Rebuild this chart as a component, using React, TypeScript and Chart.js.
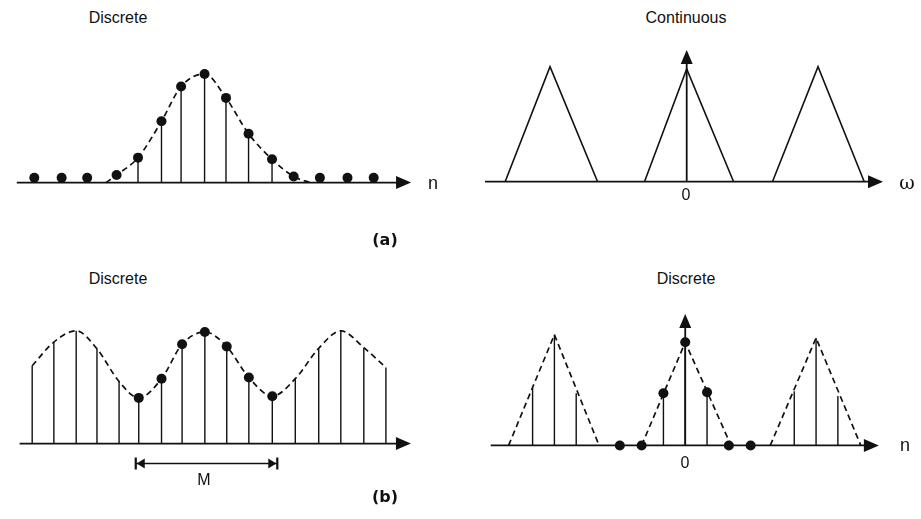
import React, { useEffect, useRef } from 'react';
import { Chart, registerables } from 'chart.js';

Chart.register(...registerables);

const INK = '#111111';

// (a) left: discrete signal x[n] — sample positions and amplitudes
const sigN = [-7.47, -6.27, -5.15, -3.86, -2.92, -1.89, -1.03, 0, 0.94, 1.93, 2.96, 3.91, 5.06, 6.27, 7.42];
const sigX = [0.045, 0.045, 0.045, 0.07, 0.23, 0.565, 0.885, 1.0, 0.78, 0.45, 0.215, 0.056, 0.045, 0.045, 0.045];
const sigStemFrom = 4;
const sigStemTo = 10;
// smooth envelope of x[n]
const sigEnvN = [-4.33, -3.86, -2.92, -1.89, -1.03, 0, 0.94, 1.93, 2.96, 3.91, 4.64];
const sigEnvX = [0, 0.07, 0.23, 0.565, 0.885, 1.0, 0.78, 0.45, 0.215, 0.056, 0];

// (a) right: continuous periodic spectrum X(ω), ω in units of π
const specW = [
  [-2.71, -2.04, -1.33],
  [-0.63, 0, 0.7],
  [1.28, 1.96, 2.65],
];
const specMag = [
  [0, 1, 0],
  [0, 0.98, 0],
  [0, 1, 0],
];

// (b) left: periodic sequence (period M), one period marked with dots
const perN = [-7.81, -6.83, -5.82, -4.88, -3.88, -2.99, -1.96, -1.03, 0, 0.99, 1.99, 3.05, 4.09, 5.15, 6.15, 7.19, 8.19];
const perX = [0.69, 0.9, 1.0, 0.84, 0.55, 0.405, 0.575, 0.88, 0.99, 0.86, 0.585, 0.42, 0.575, 0.845, 1.0, 0.85, 0.675];
const perDotFrom = 5;
const perDotTo = 11;

// (b) right: discrete periodic spectrum X[k]
const dftK = [-7, -6, -5, -4, -3, -2, -1, 0, 1, 2, 3, 4, 5, 6, 7];
const dftX = [0.53, 1.02, 0.48, 0, 0, 0, 0.48, 0.95, 0.49, 0, 0, 0, 0.5, 0.99, 0.455];
const dftDotFrom = 4;
const dftDotTo = 10;
const dftEnvK = [
  [-8.1, -6, -3.95],
  [-2, 0, 2.1],
  [3.9, 6, 8.05],
];
const dftEnvX = [
  [0, 1.02, 0],
  [0, 0.95, 0],
  [0, 0.99, 0],
];

const pts = (xs: number[], ys: number[]) => xs.map((x, i) => ({ x, y: ys[i] }));

// Axis arrows, stems and the period bracket
const signalAxes = {
  id: 'signalAxes',
  beforeDatasetsDraw(chart: any, _args: any, opts: any) {
    const { ctx } = chart;
    const xs = chart.scales.x;
    const ys = chart.scales.y;
    const y0 = ys.getPixelForValue(0);
    ctx.save();
    ctx.strokeStyle = INK;
    ctx.fillStyle = INK;

    // stems
    ctx.lineWidth = 1.4;
    chart.data.datasets.forEach((ds: any, i: number) => {
      if (!ds.stem) return;
      chart.getDatasetMeta(i).data.forEach((pt: any) => {
        if (Math.abs(pt.y - y0) < 0.5) return;
        ctx.beginPath();
        ctx.moveTo(pt.x, y0);
        ctx.lineTo(pt.x, pt.y);
        ctx.stroke();
      });
    });

    // horizontal axis with arrow
    const xa = xs.getPixelForValue(opts.from);
    const xb = xs.getPixelForValue(opts.to);
    const head = 15;
    const half = 6.5;
    ctx.lineWidth = 1.7;
    ctx.beginPath();
    ctx.moveTo(xa, y0);
    ctx.lineTo(xb - head + 1, y0);
    ctx.stroke();
    ctx.beginPath();
    ctx.moveTo(xb, y0);
    ctx.lineTo(xb - head, y0 - half);
    ctx.lineTo(xb - head, y0 + half);
    ctx.closePath();
    ctx.fill();

    // vertical axis with arrow
    if (opts.vTo != null) {
      const xv = xs.getPixelForValue(0);
      const yt = ys.getPixelForValue(opts.vTo);
      ctx.lineWidth = 1.8;
      ctx.beginPath();
      ctx.moveTo(xv, y0);
      ctx.lineTo(xv, yt + 12);
      ctx.stroke();
      ctx.beginPath();
      ctx.moveTo(xv, yt);
      ctx.lineTo(xv - 6, yt + 14);
      ctx.lineTo(xv + 6, yt + 14);
      ctx.closePath();
      ctx.fill();
    }

    // period bracket |<---->|
    if (opts.bracket) {
      const bx1 = xs.getPixelForValue(opts.bracket.from) - 3;
      const bx2 = xs.getPixelForValue(opts.bracket.to) + 5;
      const by = y0 + opts.bracket.offset;
      ctx.lineWidth = 1.4;
      ctx.beginPath();
      ctx.moveTo(bx1, by);
      ctx.lineTo(bx2, by);
      ctx.stroke();
      ctx.lineWidth = 2.2;
      ctx.beginPath();
      ctx.moveTo(bx1, by - 6);
      ctx.lineTo(bx1, by + 6);
      ctx.moveTo(bx2, by - 6);
      ctx.lineTo(bx2, by + 6);
      ctx.stroke();
      ctx.beginPath();
      ctx.moveTo(bx1 + 1, by);
      ctx.lineTo(bx1 + 9, by - 5);
      ctx.lineTo(bx1 + 9, by + 5);
      ctx.closePath();
      ctx.moveTo(bx2 - 1, by);
      ctx.lineTo(bx2 - 9, by - 5);
      ctx.lineTo(bx2 - 9, by + 5);
      ctx.closePath();
      ctx.fill();
    }
    ctx.restore();
  },
};

type Rect = { left: number; top: number; width: number; height: number };
type Frame = { x0: number; xUnit: number; y0: number; yUnit: number };

interface PanelSpec {
  rect: Rect;
  frame: Frame;
  axis: { from: number; to: number; vTo?: number; bracket?: { from: number; to: number; offset: number } };
  datasets: any[];
}

const dotSet = (data: { x: number; y: number }[]) => ({
  type: 'scatter',
  data,
  pointRadius: 5,
  pointHoverRadius: 5,
  backgroundColor: INK,
  borderWidth: 0,
  clip: false,
});

const stemSet = (data: { x: number; y: number }[]) => ({
  type: 'scatter',
  data,
  stem: true,
  pointRadius: 0,
  pointHoverRadius: 0,
  clip: false,
});

const curveSet = (data: { x: number; y: number }[], dashed: boolean, smooth: boolean) => ({
  type: 'line',
  data,
  borderColor: INK,
  borderWidth: dashed ? 1.7 : 1.6,
  borderDash: dashed ? [6, 4] : [],
  pointRadius: 0,
  fill: false,
  tension: smooth ? 0.4 : 0,
  cubicInterpolationMode: smooth ? 'monotone' : 'default',
  clip: false,
});

const signalAll = pts(sigN, sigX);
const periodicAll = pts(perN, perX);
const dftAll = pts(dftK, dftX);

const panels: PanelSpec[] = [
  {
    rect: { left: 0, top: 40, width: 460, height: 180 },
    frame: { x0: 204, xUnit: 23.3, y0: 185.7, yUnit: 115 },
    axis: { from: -8.24, to: 9.06 },
    datasets: [
      dotSet(signalAll),
      curveSet(pts(sigEnvN, sigEnvX), true, true),
      stemSet(signalAll.slice(sigStemFrom, sigStemTo + 1)),
    ],
  },
  {
    rect: { left: 470, top: 40, width: 451, height: 180 },
    frame: { x0: 686.7, xUnit: 67, y0: 181.7, yUnit: 115 },
    axis: { from: -3.01, to: 2.93, vTo: 1.145 },
    datasets: specW.map((w, i) => curveSet(pts(w, specMag[i]), false, false)),
  },
  {
    rect: { left: 0, top: 300, width: 460, height: 180 },
    frame: { x0: 204.3, xUnit: 22.6, y0: 446.7, yUnit: 119.4 },
    axis: {
      from: -8.38,
      to: 9.32,
      bracket: { from: perN[perDotFrom], to: perN[perDotTo], offset: 20 },
    },
    datasets: [
      dotSet(periodicAll.slice(perDotFrom, perDotTo + 1)),
      curveSet(periodicAll, true, true),
      stemSet(periodicAll),
    ],
  },
  {
    rect: { left: 470, top: 295, width: 451, height: 180 },
    frame: { x0: 685, xUnit: 22.3, y0: 449, yUnit: 115 },
    axis: { from: -8.92, to: 8.88, vTo: 1.21 },
    datasets: [
      dotSet(dftAll.slice(dftDotFrom, dftDotTo + 1)),
      ...dftEnvK.map((k, i) => curveSet(pts(k, dftEnvX[i]), true, false)),
      stemSet(dftAll),
    ],
  },
];

function SignalPanel({ spec }: { spec: PanelSpec }) {
  const ref = useRef<HTMLCanvasElement | null>(null);
  useEffect(() => {
    if (!ref.current) return;
    const { rect, frame } = spec;
    const chart = new Chart(ref.current, {
      type: 'scatter',
      data: { datasets: spec.datasets as any },
      options: {
        animation: false,
        responsive: false,
        maintainAspectRatio: false,
        events: [],
        layout: { padding: 0 },
        plugins: {
          legend: { display: false },
          tooltip: { enabled: false },
          title: { display: false },
          signalAxes: spec.axis,
        } as any,
        scales: {
          x: {
            type: 'linear',
            display: false,
            bounds: 'data',
            min: (rect.left - frame.x0) / frame.xUnit,
            max: (rect.left + rect.width - frame.x0) / frame.xUnit,
          },
          y: {
            type: 'linear',
            display: false,
            bounds: 'data',
            min: (frame.y0 - (rect.top + rect.height)) / frame.yUnit,
            max: (frame.y0 - rect.top) / frame.yUnit,
          },
        },
      },
      plugins: [signalAxes as any],
    });
    return () => chart.destroy();
  }, [spec]);
  const { rect } = spec;
  return (
    <canvas
      ref={ref}
      width={rect.width}
      height={rect.height}
      style={{ position: 'absolute', left: rect.left, top: rect.top, width: rect.width, height: rect.height }}
    />
  );
}

const SANS = '"Liberation Sans", Arial, Helvetica, sans-serif';

function Label({ x, y, text, size = 16, font = SANS, weight = 400 }: { x: number; y: number; text: string; size?: number; font?: string; weight?: number }) {
  return (
    <div
      style={{
        position: 'absolute',
        left: x,
        top: y,
        transform: 'translate(-50%, -50%)',
        whiteSpace: 'nowrap',
        lineHeight: 1,
        fontFamily: font,
        fontSize: size,
        fontWeight: weight,
        color: INK,
      }}
    >
      {text}
    </div>
  );
}

export default function App() {
  return (
    <div style={{ position: 'fixed', left: 0, top: 0, width: 921, height: 519, background: '#fff', overflow: 'hidden' }}>
      {panels.map((p, i) => (
        <SignalPanel key={i} spec={p} />
      ))}
      <Label x={118} y={18} text="Discrete" />
      <Label x={686} y={18} text="Continuous" />
      <Label x={433} y={183} text="n" size={18} />
      <Label x={907} y={182} text="ω" size={19} font='"DejaVu Serif", "Liberation Serif", serif' />
      <Label x={686} y={195} text="0" size={16} />
      <Label x={385} y={240} text="(a)" size={16} weight={700} font='"DejaVu Sans", sans-serif' />
      <Label x={118} y={279} text="Discrete" />
      <Label x={686} y={279} text="Discrete" />
      <Label x={905} y={445} text="n" size={18} />
      <Label x={685} y={463} text="0" size={16} />
      <Label x={204} y={480} text="M" size={16} />
      <Label x={385} y={497} text="(b)" size={16} weight={700} font='"DejaVu Sans", sans-serif' />
    </div>
  );
}
